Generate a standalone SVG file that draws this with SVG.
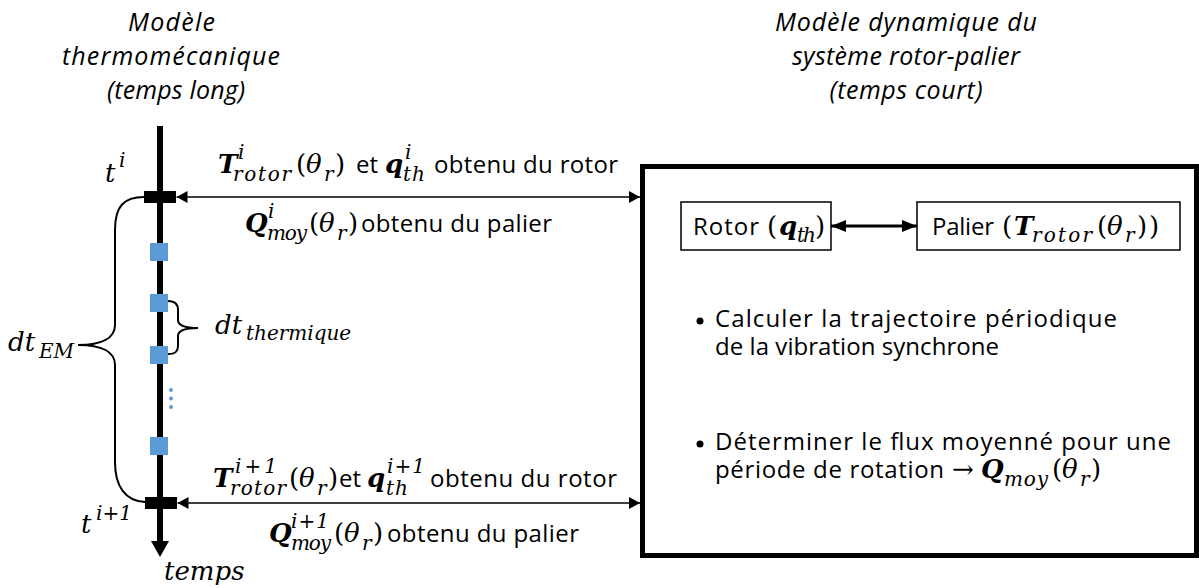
<svg xmlns="http://www.w3.org/2000/svg" width="1199" height="588" viewBox="0 0 1199 588">
<defs>
<style>
.ttl{font-family:"Open Sans","Noto Sans","Liberation Sans",sans-serif;font-style:italic;font-size:25px;fill:#000;text-anchor:middle}
.sans{font-family:"Open Sans","Noto Sans","Liberation Sans",sans-serif;font-size:24px;fill:#000}
.m{font-family:"DejaVu Serif","Liberation Serif",serif;font-style:italic;font-size:26px;fill:#000}
.mb{font-family:"DejaVu Serif","Liberation Serif",serif;font-style:italic;font-weight:bold;font-size:26px;fill:#000}
.mu{font-family:"DejaVu Serif","Liberation Serif",serif;font-size:26px;fill:#000}
.s{font-family:"DejaVu Serif","Liberation Serif",serif;font-style:italic;font-size:20px;fill:#000}
.blue{fill:#5B9BD5}
.thin{stroke:#000;stroke-width:1.3;fill:none}
.brace{stroke:#000;stroke-width:2;fill:none}
</style>
<marker id="ah" viewBox="0 0 11 12" refX="11" refY="6" markerWidth="11" markerHeight="12" markerUnits="userSpaceOnUse" orient="auto-start-reverse">
<path d="M0,0 L11,6 L0,12 z" fill="#000"/>
</marker>
<marker id="ahb" viewBox="0 0 15 12" refX="15" refY="6" markerWidth="15" markerHeight="12" markerUnits="userSpaceOnUse" orient="auto-start-reverse">
<path d="M0,0 L15,6 L0,12 z" fill="#000"/>
</marker>
</defs>
<rect width="1199" height="588" fill="#fff"/>

<g id="titles">
<text class="ttl" x="171.5" y="31" textLength="87">Modèle</text>
<text class="ttl" x="171" y="65" textLength="218">thermomécanique</text>
<text class="ttl" x="176" y="99" textLength="138">(temps long)</text>
<text class="ttl" x="906" y="31" textLength="262">Modèle dynamique du</text>
<text class="ttl" x="906" y="65" textLength="228">système rotor-palier</text>
<text class="ttl" x="906" y="99" textLength="153">(temps court)</text>
</g>

<g id="timeline">
<line x1="160" y1="126" x2="160" y2="543" stroke="#000" stroke-width="6"/>
<polygon points="151,541 169,541 160,557" fill="#000"/>
<rect x="144" y="191" width="32" height="12" fill="#000"/>
<rect x="145" y="497" width="32" height="12" fill="#000"/>
<rect class="blue" x="150" y="243" width="18" height="18"/>
<rect class="blue" x="150" y="294" width="18" height="18"/>
<rect class="blue" x="150" y="346" width="18" height="18"/>
<rect class="blue" x="150" y="437" width="18" height="18"/>
<circle class="blue" cx="171" cy="390" r="2"/>
<circle class="blue" cx="171" cy="398.5" r="2"/>
<circle class="blue" cx="171" cy="407" r="2"/>
<path class="brace" d="M144,197 C124,197 115,206 115,230 L115,325 C115,338 102,345 78,345 C102,345 115,352 115,365 L115,462 C115,486 125,501 145,502"/>
<path class="brace" d="M168,301 C175,301 178,304 178,310 L178,320 C178,325 185,328 198,328 C185,328 178,331 178,336 L178,346 C178,352 175,354 168,354"/>
<text class="m" x="105" y="182" font-size="28">t</text>
<text class="s" x="119" y="167">i</text>
<text class="m" x="81" y="533" font-size="28">t</text>
<text class="s" x="96" y="520">i+1</text>
<text class="m" x="8" y="351" font-size="28">dt</text>
<text class="s" x="39" y="358" font-size="19">EM</text>
<text class="m" x="215" y="334" font-size="28">dt</text>
<text class="s" x="246" y="340" font-size="21">thermique</text>
<text class="m" x="164" y="580" font-size="28">temps</text>
</g>

<g id="labels">
<text class="mb" x="218" y="173">T</text>
<text class="s" x="238" y="159">i</text>
<text class="s" x="233" y="181" textLength="58">rotor</text>
<text class="mu" x="296" y="173">(</text>
<text class="m" x="306" y="173">θ</text>
<text class="s" x="324" y="181">r</text>
<text class="mu" x="335" y="173">)</text>
<text class="sans" x="356" y="173">et</text>
<text class="mb" x="385" y="173">q</text>
<text class="s" x="405" y="159">i</text>
<text class="s" x="403" y="181" textLength="22">th</text>
<text class="sans" x="434" y="173" textLength="184">obtenu du rotor</text>

<text class="mb" x="245" y="232">Q</text>
<text class="s" x="268" y="218">i</text>
<text class="s" x="267" y="240" textLength="40">moy</text>
<text class="mu" x="309" y="232">(</text>
<text class="m" x="319" y="232">θ</text>
<text class="s" x="337" y="240">r</text>
<text class="mu" x="348" y="232">)</text>
<text class="sans" x="361" y="232" textLength="191">obtenu du palier</text>

<text class="mb" x="213" y="487">T</text>
<text class="s" x="235" y="473" textLength="42">i+1</text>
<text class="s" x="230" y="495" textLength="56">rotor</text>
<text class="mu" x="289" y="487">(</text>
<text class="m" x="299" y="487">θ</text>
<text class="s" x="317" y="495">r</text>
<text class="mu" x="328" y="487">)</text>
<text class="sans" x="339" y="487">et</text>
<text class="mb" x="367" y="487">q</text>
<text class="s" x="387" y="473" textLength="38">i+1</text>
<text class="s" x="386" y="495" textLength="22">th</text>
<text class="sans" x="430" y="487" textLength="187">obtenu du rotor</text>

<text class="mb" x="269" y="542">Q</text>
<text class="s" x="291" y="528" textLength="38">i+1</text>
<text class="s" x="291" y="550" textLength="40">moy</text>
<text class="mu" x="334" y="542">(</text>
<text class="m" x="344" y="542">θ</text>
<text class="s" x="362" y="550">r</text>
<text class="mu" x="373" y="542">)</text>
<text class="sans" x="387" y="542" textLength="192">obtenu du palier</text>
</g>

<g id="connectors">
<line class="thin" x1="176.5" y1="197" x2="640" y2="197" marker-start="url(#ah)" marker-end="url(#ah)"/>
<line class="thin" x1="177.5" y1="503" x2="640" y2="503" marker-start="url(#ah)" marker-end="url(#ah)"/>
<line x1="831" y1="226" x2="917" y2="226" stroke="#000" stroke-width="3" marker-start="url(#ahb)" marker-end="url(#ahb)"/>
</g>

<g id="dynamic-model">
<rect x="642.5" y="166.5" width="554" height="389" fill="none" stroke="#000" stroke-width="5"/>
<circle cx="700" cy="321" r="3.5" fill="#000"/>
<text class="sans" x="715" y="327" textLength="402">Calculer la trajectoire périodique</text>
<text class="sans" x="715" y="355" textLength="284">de la vibration synchrone</text>
<circle cx="700" cy="444" r="3.5" fill="#000"/>
<text class="sans" x="715" y="450" textLength="456">Déterminer le flux moyenné pour une</text>
<text class="sans" x="715" y="478" textLength="229">période de rotation</text>
<text class="mu" x="952" y="478" textLength="20">→</text>
<text class="mb" x="981" y="478">Q</text>
<text class="s" x="1004" y="486" textLength="44">moy</text>
<text class="mu" x="1052" y="478">(</text>
<text class="m" x="1062" y="478">θ</text>
<text class="s" x="1080" y="486">r</text>
<text class="mu" x="1091" y="478">)</text>
</g>

<g id="rotor">
<rect x="681" y="202" width="150" height="48" fill="#fff" stroke="#000" stroke-width="1.5"/>
<text class="sans" x="693" y="235" textLength="66">Rotor</text>
<text class="mu" x="767" y="235">(</text>
<text class="mb" x="779" y="235">q</text>
<text class="s" x="797" y="242" textLength="19">th</text>
<text class="mu" x="815" y="235">)</text>
</g>

<g id="palier">
<rect x="917" y="202" width="263" height="48" fill="#fff" stroke="#000" stroke-width="1.5"/>
<text class="sans" x="932" y="235" textLength="62">Palier</text>
<text class="mu" x="1002" y="235">(</text>
<text class="mb" x="1014" y="235">T</text>
<text class="s" x="1032" y="242" textLength="60">rotor</text>
<text class="mu" x="1097" y="235">(</text>
<text class="m" x="1107" y="235">θ</text>
<text class="s" x="1125" y="242">r</text>
<text class="mu" x="1137" y="235">)</text>
<text class="mu" x="1149" y="235">)</text>
</g>
</svg>
